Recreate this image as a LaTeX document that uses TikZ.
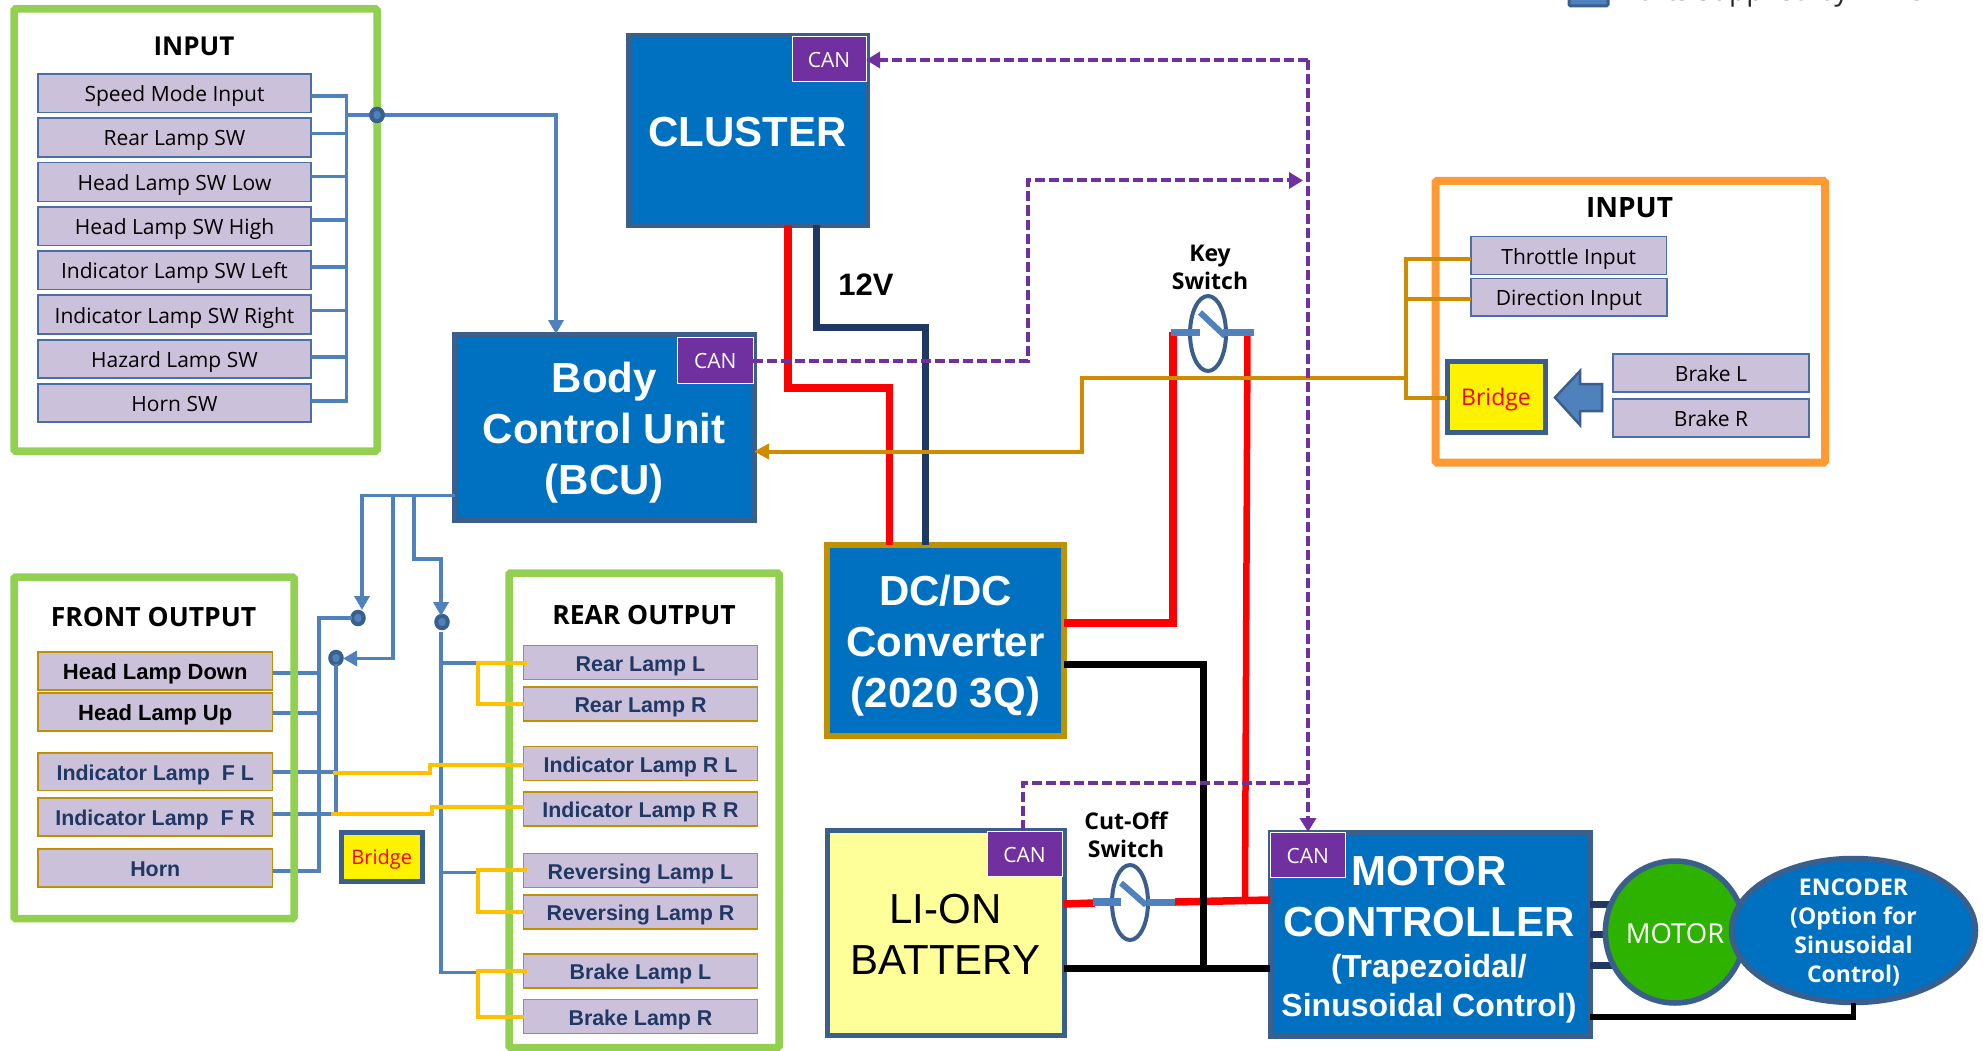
\documentclass[tikz,border=0pt]{standalone}
\usepackage{fontspec}
\setmainfont{Open Sans}
\newfontfamily\arl{Liberation Sans}
\usetikzlibrary{arrows.meta,shapes.geometric}
\definecolor{lav}{HTML}{CCC1DA}
\definecolor{edgeb}{HTML}{3B5F8C}
\definecolor{edgel}{HTML}{4A6FA5}
\definecolor{goldb}{HTML}{BF9000}
\definecolor{bluef}{HTML}{0070C0}
\definecolor{bluel}{HTML}{4F81BD}
\definecolor{purp}{HTML}{7030A0}
\definecolor{grn}{HTML}{92D050}
\definecolor{orgf}{HTML}{FF9933}
\definecolor{navy}{HTML}{1F3864}
\definecolor{amber}{HTML}{FFC000}
\definecolor{ochre}{HTML}{D08C00}
\definecolor{motg}{HTML}{2EB200}
\definecolor{batt}{HTML}{FFFF99}
\newcommand\fz[2]{\fontsize{#1}{#2}\selectfont}
\newcommand\tp[1]{\rule{0pt}{#1pt}}
\newcommand\bx[7]{%
  \pgfmathsetmacro\bxw{#5-#3}\pgfmathsetmacro\bxh{#6-#4}%
  \pgfmathsetmacro\bxx{(#3+#5)/2}\pgfmathsetmacro\bxy{(#4+#6)/2}%
  \node[#1,minimum width=\bxw pt,minimum height=\bxh pt] (#2) at (\bxx,\bxy) {#7};}
\tikzset{
  base/.style={rectangle,inner sep=0pt,outer sep=0pt,align=center},
  lab/.style={base,fill=lav,draw=edgel,line width=1.5pt,font=\fz{21}{21},text height=20pt,text depth=3pt},
  olab/.style={base,fill=lav,draw=goldb,line width=1.5pt,text=navy,font=\arl\bfseries\fz{21.4}{22},text height=20pt,text depth=3pt},
  olabk/.style={olab,text=black,font=\arl\bfseries\fz{22}{22}},
  block/.style={base,fill=bluef,draw=edgeb,line width=5pt,text=white,font=\arl\bfseries\fz{42}{51}},
  tagcan/.style={base,fill=purp,draw=white,line width=1pt,text=white,font=\fz{21}{21},text height=17pt,text depth=0pt},
  framegr/.style={base,draw=grn,line width=7.5pt,rounded corners=1.5pt},
  frameor/.style={base,draw=orgf,line width=8pt,rounded corners=1.5pt},
  bridgebox/.style={base,fill=yellow,draw=edgeb,line width=5pt,text=red},
  dotb/.style={ellipse,inner sep=0pt,outer sep=0pt,minimum width=11.5pt,minimum height=12.5pt,fill=bluel,draw=edgeb,line width=4pt},
  ttl/.style={font=\bfseries\fz{26}{26},inner sep=0pt},
  swl/.style={font=\bfseries\fz{23}{28},align=center,inner sep=0pt},
  sw/.style={ellipse,inner sep=0pt,outer sep=0pt,minimum width=36pt,minimum height=75pt,draw=edgeb,line width=4pt},
  swbar/.style={line width=7.5pt,draw=bluel},
  swarm/.style={line width=6pt,draw=bluel},
  wblue/.style={draw=bluel,line width=3.5pt},
  wbluet/.style={wblue,-{Triangle[length=14pt,width=15pt]}},
  wred/.style={draw=red,line width=7.5pt},
  wblk/.style={draw=black,line width=7pt},
  wnavy/.style={draw=navy,line width=7pt},
  woch/.style={draw=ochre,line width=4pt},
  wamb/.style={draw=amber,line width=4pt},
  wpur/.style={draw=purp,line width=4pt,dash pattern=on 10pt off 4pt},
  wpura/.style={wpur,-{Triangle[length=14pt,width=16pt]}},
}
\begin{document}
\begin{tikzpicture}[x=1pt,y=-1pt]
\useasboundingbox (0,0) rectangle (1983,1051);
\fill[white] (0,0) rectangle (1983,1051);
% legend (cut by the page top)
\bx{base,fill=bluel,draw=edgeb,line width=3pt,rounded corners=1.5pt}{legbox}{1569}{-14}{1608}{6}{}
\node[anchor=base west,inner sep=0pt,font=\fz{28}{28},text=black!85] (legtxt) at (1622,0.5) {Parts Supplied by INNOBILE};

% left input labels
\bx{lab}{sm}{38}{74}{311}{112.5}{Speed Mode Input}
\bx{lab}{rl}{38}{118}{311}{157}{Rear Lamp SW}
\bx{lab}{hl}{38}{162.5}{311}{201.5}{Head Lamp SW Low}
\bx{lab}{hh}{38}{207}{311}{245.5}{Head Lamp SW High}
\bx{lab}{il}{38}{251}{311}{289.5}{Indicator Lamp SW Left}
\bx{lab}{ir}{38}{295}{311}{334}{Indicator Lamp SW Right}
\bx{lab}{hz}{38}{340}{311}{378}{Hazard Lamp SW}
\bx{lab}{hs}{38}{384}{311}{422}{Horn SW}

% main blocks
\bx{block}{cl}{628.5}{36}{867}{225}{\tp{33}CLUSTER}
\bx{block}{bcu}{454.5}{334}{754}{520}{\tp{41}Body\\Control Unit\\(BCU)}
\bx{block,draw=goldb,line width=6pt}{dc}{827}{545}{1064}{736}{\tp{41}DC/DC\\Converter\\(2020 3Q)}
\bx{block,fill=batt,text=black,font=\arl\fz{42}{51}}{bat}{827}{830}{1064}{1035}{\tp{33}LI-ON\\BATTERY}
\bx{block}{mc}{1270}{832}{1590}{1036}{}
\node[inner sep=0pt,text=white,align=center,font=\arl\bfseries\fz{42}{50.5}] (mct1) at (1429,896.5) {MOTOR\\CONTROLLER};
\node[inner sep=0pt,text=white,align=center,font=\arl\bfseries\fz{32}{39}] (mct2) at (1429,988.5) {(Trapezoidal/\\Sinusoidal Control)};

% CAN tags
\bx{tagcan}{ccl}{792}{37}{866}{82}{CAN}
\bx{tagcan}{cbc}{677.5}{337}{753}{383}{CAN}
\bx{tagcan}{cbt}{987}{831}{1062}{876}{CAN}
\bx{tagcan}{cmc}{1270}{832}{1345.5}{877}{CAN}

% right input
\bx{lab}{thr}{1471}{236.5}{1666.5}{274.5}{Throttle Input}
\bx{lab}{dir}{1471}{278.5}{1667}{316}{Direction Input}
\bx{lab}{bkl}{1613}{354}{1809}{392}{Brake L}
\bx{lab}{bkr}{1613}{399}{1809}{437}{Brake R}
\bx{bridgebox,font=\fz{23}{23},text height=22pt,text depth=4.5pt}{brr}{1447}{361}{1545}{432}{Bridge}
\bx{bridgebox,font=\fz{20}{20},text height=20pt,text depth=4pt}{brf}{341.5}{832}{422}{881}{Bridge}
\draw[fill=bluel,draw=edgeb,line width=2.5pt,line join=miter]
  (1602,384) -- (1580,384) -- (1580,371) -- (1555,397.5) -- (1580,425) -- (1580,411) -- (1602,411) -- cycle;

% front output
\bx{olabk}{fhd}{38}{652}{272.5}{690}{Head Lamp Down}
\bx{olabk}{fhu}{38}{693}{272.5}{731}{Head Lamp Up}
\bx{olab}{fil}{38}{753}{272.5}{790.5}{Indicator Lamp\ \ F L}
\bx{olab}{fir}{38}{798}{272.5}{836}{Indicator Lamp\ \ F R}
\bx{olab}{fho}{38}{849}{272.5}{887}{Horn}
% rear output
\bx{olab}{rrl}{523.5}{645.5}{757.5}{679.5}{Rear Lamp L}
\bx{olab}{rrr}{523.5}{687}{757.5}{721}{Rear Lamp R}
\bx{olab}{ril}{523.5}{746.5}{757.5}{780.5}{Indicator Lamp R L}
\bx{olab}{rir}{523.5}{792}{757.5}{826}{Indicator Lamp R R}
\bx{olab}{rvl}{523.5}{853.5}{757.5}{887.5}{Reversing Lamp L}
\bx{olab}{rvr}{523.5}{895}{757.5}{929}{Reversing Lamp R}
\bx{olab}{bll}{523.5}{954}{757.5}{988}{Brake Lamp L}
\bx{olab}{blr}{523.5}{999.5}{757.5}{1033.5}{Brake Lamp R}

% junction dots
\node[dotb] (d0) at (377,115) {};
\node[dotb] (d1) at (358,618) {};
\node[dotb] (d2) at (336,658) {};
\node[dotb] (d3) at (442,622) {};

% input bus
\coordinate (busi) at (346.5,115);
\draw[wblue] (sm.east) ++(0,3) -| (346.5,115);
\draw[wblue] (hs.east) ++(0,-2) -| (busi);
\draw[wblue] (rl.east) ++(0,-4) -- ++(35.5,0);
\draw[wblue] (hl.east) ++(0,-5.5) -- ++(35.5,0);
\draw[wblue] (hh.east) ++(0,-6) -- ++(35.5,0);
\draw[wblue] (il.east) ++(0,-3.5) -- ++(35.5,0);
\draw[wblue] (ir.east) ++(0,-4) -- ++(35.5,0);
\draw[wblue] (hz.east) ++(0,-2) -- ++(35.5,0);
\draw[wblue] (busi) -- (d0);
\draw[wbluet] (d0) -- (556,115) -- (556,0 |- bcu.north);

% BCU outputs
\coordinate (bl) at (bcu.west |- 0,495.5);
\draw[wbluet] (bl) -- (362,495.5) -- (362,610);
\draw[wbluet] (393,495.5) -- (393,658.5) -- (343,658.5);
\draw[wbluet] (414,495.5) -- (414,559) -- (441,559) -- (441,616);

% front buses
\draw[wblue] (d1) -- (319,618) -- (319,871) -- (fho.east |- 0,871);
\draw[wblue] (fhd.east |- 0,673) -- (319,673);
\draw[wblue] (fhu.east |- 0,713) -- (317,713);
\draw[wblue] (fil.east |- 0,772) -- (336,772);
\draw[wblue] (fir.east |- 0,814) -- (336,814);
\draw[wblue] (d2) -- (336,814);
% rear bus
\draw[wblue] (441,632) -- (441,972.5) -- (478,972.5);
\draw[wblue] (441,663) -- (478,663);
\draw[wblue] (441,872.5) -- (478,872.5);

% frames
\bx{framegr}{fri}{14}{9}{377}{451}{}
\bx{framegr}{frf}{14}{577}{294}{918.5}{}
\bx{framegr}{frr}{509}{573}{779}{1047.5}{}
\bx{frameor}{fro}{1435.5}{181}{1825}{462.5}{}
\node[dotb] (d0b) at (d0) {};
\node[ttl] (t1) at (194,46) {INPUT};
\node[ttl,font=\bfseries\fz{26.5}{27}] (t2) at (153.5,617.5) {FRONT OUTPUT};
\node[ttl,font=\bfseries\fz{26.5}{27}] (t3) at (644,615) {REAR OUTPUT};
\node[ttl,font=\bfseries\fz{28}{28}] (t4) at (1629.5,207.5) {INPUT};
\node[font=\arl\bfseries\fz{31}{31},inner sep=0pt] (v12) at (866,285) {12V};

% amber links
\draw[wamb] (rrl.west |- 0,662.5) ++(3,0) -- (478,662.5) -- (478,703.5) -- (rrr.west |- 0,703.5);
\draw[wamb] (rvl.west |- 0,870) ++(3,0) -- (478,870) -- (478,911.5) -- (rvr.west |- 0,911.5);
\draw[wamb] (bll.west |- 0,971) ++(3,0) -- (478,971) -- (478,1016.5) -- (blr.west |- 0,1016.5);
\draw[wamb] (333,772.5) -- (429.5,772.5) -- (429.5,765) -- (ril.west |- 0,765);
\draw[wamb] (331,814) -- (432,814) -- (432,806.5) -- (rir.west |- 0,806.5);

% power
\draw[wred] (788,0 |- cl.south) -- (788,388) -- (889.5,388) -- (889.5,0 |- dc.north);
\draw[wnavy] (816.5,0 |- cl.south) -- (816.5,327) -- (925,327) -- (925,0 |- dc.north);
\draw[wred] (dc.east |- 0,623) -- (1173,623) -- (1173,332);
\draw[wred,line width=6.5pt] (1247.5,332) -- (1245,900);
\draw[wred] (bat.east |- 0,904) -- (1095,903);
\draw[wred] (1175,902) -- (mc.west |- 0,900);
\draw[wblk] (dc.east |- 0,664.5) -- (1203,664.5) -- (1203,968.5);
\draw[wblk] (bat.east |- 0,968.5) -- (mc.west |- 0,968.5);
% motor wires, behind the motor
\coordinate (mctr) at (1675,932);
\draw[wnavy] (mc.east |- 0,904) -- (mctr |- 0,904);
\draw[wnavy] (mc.east |- 0,934) -- (mctr |- 0,934);
\draw[wnavy] (mc.east |- 0,965) -- (mctr |- 0,965);
\node[ellipse,inner sep=0pt,outer sep=0pt,minimum width=136.5pt,minimum height=142pt,fill=motg,draw=edgeb,line width=5.5pt,text=white,font=\fz{27.5}{27.5},text height=22pt,text depth=0pt] (mot) at (mctr) {MOTOR};
\node[ellipse,inner sep=0pt,outer sep=0pt,minimum width=244pt,minimum height=144pt,fill=bluef,draw=edgeb,line width=5.5pt] (enc) at (1853.5,930.5) {};
\node[inner sep=0pt,text=white,align=center,font=\bfseries\fz{23}{29}] (enct) at (1853.5,932.5) {ENCODER\\(Option for\\Sinusoidal\\Control)};
\draw[wblk,line width=5.5pt] (mc.east |- 0,1017) -| (enc.south);

% switches
\node[sw] (ks) at (1208,333.5) {};
\node[sw] (cs) at (1130,902.5) {};
\node[swl] (kt) at (1210,267) {Key\\Switch};
\node[swl] (ct) at (1126,835) {Cut-Off\\Switch};
\draw[swbar] (1171,332.5) -- (1200,332.5);
\draw[swbar] (1223,332.5) -- (1254,332.5);
\draw[swarm] (1200,312.5) -- (1225,336);
\draw[swbar] (1093,902) -- (1121,902);
\draw[swbar] (1147,902.5) -- (1175,902.5);
\draw[swarm] (1121,883) -- (1146,905);

% ochre signal
\draw[woch,-{Triangle[length=15pt,width=15pt]}] (1406,377.5) -- (1082,377.5) -- (1082,451.5) -- (bcu.east |- 0,451.5);
\draw[woch] (thr.west |- 0,258.5) -- (1406,258.5) -- (1406,397.5) -- (brr.west |- 0,397.5);
\draw[woch] (dir.west |- 0,298.5) -- (1406,298.5);

% CAN bus
\draw[wpur] (cbc.east |- 0,360.5) -- (1028,360.5) -- (1028,180.5) -- (1290,180.5);
\draw[wpura] (1290,180.5) -- (1303,180.5);
\draw[wpur] (1308,60) -- (1308,820);
\draw[wpura] (1308,820) -- (1308,0 |- mc.north);
\draw[wpura] (1308,60) -- (ccl.east |- 0,60);
\draw[wpur] (1308,783) -- (1023,783) -- (1023,0 |- bat.north);
\end{tikzpicture}
\end{document}
